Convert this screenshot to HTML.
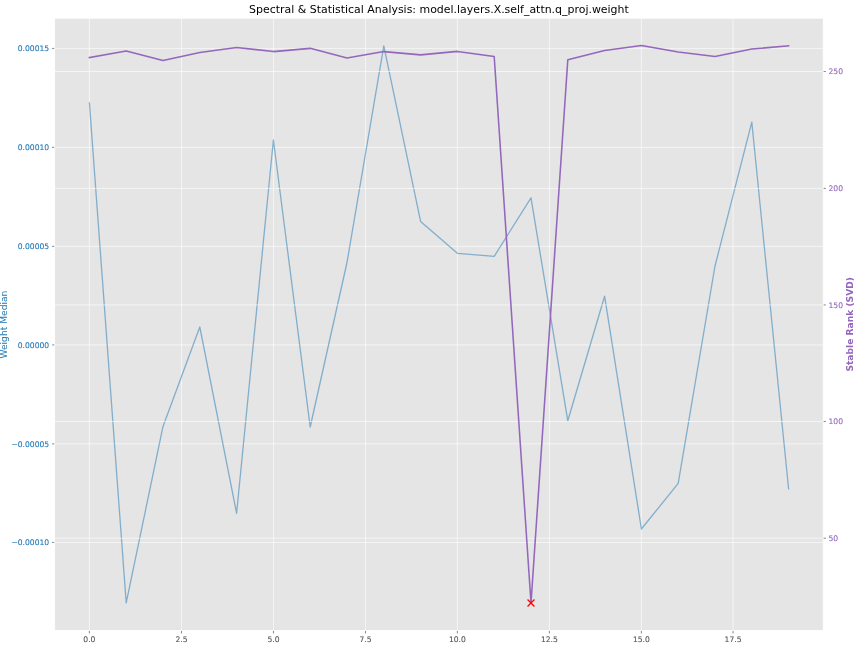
<!DOCTYPE html>
<html><head><meta charset="utf-8"><title>Spectral &amp; Statistical Analysis</title>
<style>
html,body{margin:0;padding:0;background:#fff;}
svg{display:block;will-change:transform}
text{font-family:"DejaVu Sans","Liberation Sans",sans-serif;}
</style></head><body>
<svg width="861" height="650" viewBox="0 0 861 650">
<rect width="861" height="650" fill="#ffffff"/>
<rect x="54.72" y="18.22" width="768.46" height="612.16" fill="#e5e5e5"/>
<clipPath id="c"><rect x="54.72" y="18.22" width="768.46" height="612.16"/></clipPath>
<g stroke="#ffffff" stroke-width="0.62" clip-path="url(#c)"><line x1="89.38" x2="89.38" y1="18.22" y2="630.38"/><line x1="181.46" x2="181.46" y1="18.22" y2="630.38"/><line x1="273.46" x2="273.46" y1="18.22" y2="630.38"/><line x1="365.46" x2="365.46" y1="18.22" y2="630.38"/><line x1="457.38" x2="457.38" y1="18.22" y2="630.38"/><line x1="549.38" x2="549.38" y1="18.22" y2="630.38"/><line x1="641.38" x2="641.38" y1="18.22" y2="630.38"/><line x1="733.05" x2="733.05" y1="18.22" y2="630.38"/><line x1="54.72" x2="823.18" y1="48.41" y2="48.41"/><line x1="54.72" x2="823.18" y1="147.38" y2="147.38"/><line x1="54.72" x2="823.18" y1="246.38" y2="246.38"/><line x1="54.72" x2="823.18" y1="344.95" y2="344.95"/><line x1="54.72" x2="823.18" y1="443.85" y2="443.85"/><line x1="54.72" x2="823.18" y1="542.46" y2="542.46"/></g>
<polyline points="89.40,102.90 126.20,602.90 163.00,426.40 199.80,327.00 236.60,513.30 273.40,140.00 310.20,427.00 347.00,262.50 383.80,45.80 420.60,221.40 457.40,253.30 494.20,256.30 531.00,197.90 567.80,420.80 604.60,296.20 641.40,529.00 678.20,483.40 715.00,266.00 751.80,122.20 788.60,488.80" fill="none" stroke="#1f77b4" stroke-opacity="0.5" stroke-width="1.3" stroke-linejoin="round" stroke-linecap="square" clip-path="url(#c)"/>
<g stroke="#ffffff" stroke-width="0.62" clip-path="url(#c)"><line x1="54.72" x2="823.18" y1="71.50" y2="71.50"/><line x1="54.72" x2="823.18" y1="188.42" y2="188.42"/><line x1="54.72" x2="823.18" y1="304.95" y2="304.95"/><line x1="54.72" x2="823.18" y1="421.50" y2="421.50"/><line x1="54.72" x2="823.18" y1="538.23" y2="538.23"/></g>
<polyline points="89.40,57.60 126.20,50.90 163.00,60.40 199.80,52.50 236.60,47.40 273.40,51.60 310.20,48.35 347.00,58.10 383.80,51.60 420.60,54.90 457.40,51.40 494.20,56.50 531.00,603.00 567.80,59.70 604.60,50.40 641.40,45.60 678.20,52.10 715.00,56.50 751.80,49.00 788.60,45.80" fill="none" stroke="#9467bd" stroke-width="1.56" stroke-linejoin="round" stroke-linecap="square" clip-path="url(#c)"/>
<path d="M527.55,599.55L534.45,606.45M527.55,606.45L534.45,599.55" stroke="#ff0000" stroke-width="1.3" fill="none"/>
<g stroke="#555555" stroke-width="0.7"><line x1="89.38" x2="89.38" y1="630.38" y2="633.44"/><line x1="181.46" x2="181.46" y1="630.38" y2="633.44"/><line x1="273.46" x2="273.46" y1="630.38" y2="633.44"/><line x1="365.46" x2="365.46" y1="630.38" y2="633.44"/><line x1="457.38" x2="457.38" y1="630.38" y2="633.44"/><line x1="549.38" x2="549.38" y1="630.38" y2="633.44"/><line x1="641.38" x2="641.38" y1="630.38" y2="633.44"/><line x1="733.05" x2="733.05" y1="630.38" y2="633.44"/><line x1="52.06" x2="54.72" y1="48.41" y2="48.41"/><line x1="52.06" x2="54.72" y1="147.38" y2="147.38"/><line x1="52.06" x2="54.72" y1="246.38" y2="246.38"/><line x1="52.06" x2="54.72" y1="344.95" y2="344.95"/><line x1="52.06" x2="54.72" y1="443.85" y2="443.85"/><line x1="52.06" x2="54.72" y1="542.46" y2="542.46"/><line x1="823.18" x2="825.8399999999999" y1="71.50" y2="71.50"/><line x1="823.18" x2="825.8399999999999" y1="188.42" y2="188.42"/><line x1="823.18" x2="825.8399999999999" y1="304.95" y2="304.95"/><line x1="823.18" x2="825.8399999999999" y1="421.50" y2="421.50"/><line x1="823.18" x2="825.8399999999999" y1="538.23" y2="538.23"/></g>
<rect x="54.72" y="18.22" width="768.46" height="612.16" fill="none" stroke="#ffffff" stroke-width="0.76"/>
<g font-size="7.6" fill="#555555" stroke="#555555" stroke-width="0.1" text-anchor="middle"><text x="89.38" y="642">0.0</text><text x="181.46" y="642">2.5</text><text x="273.46" y="642">5.0</text><text x="365.46" y="642">7.5</text><text x="457.38" y="642">10.0</text><text x="549.38" y="642">12.5</text><text x="641.38" y="642">15.0</text><text x="733.05" y="642">17.5</text></g>
<g font-size="7.6" fill="#1f77b4" stroke="#1f77b4" stroke-width="0.1" text-anchor="end"><text x="49.15" y="51">0.00015</text><text x="49.15" y="150">0.00010</text><text x="49.15" y="249">0.00005</text><text x="49.15" y="348">0.00000</text><text x="49.15" y="447">−0.00005</text><text x="49.15" y="545">−0.00010</text></g>
<g font-size="7.6" fill="#9467bd" stroke="#9467bd" stroke-width="0.1" text-anchor="start"><text x="828.50" y="74">250</text><text x="828.50" y="191">200</text><text x="828.50" y="308">150</text><text x="828.50" y="424">100</text><text x="828.50" y="541">50</text></g>
<text font-size="9.15" fill="#1f77b4" text-anchor="middle" transform="translate(7.2,324.60) rotate(-90)">Weight Median</text>
<text font-size="9.15" fill="#9467bd" font-weight="bold" text-anchor="middle" transform="translate(852.8,324.30) rotate(-90)">Stable Rank (SVD)</text>
<text font-size="10.94" fill="#000000" text-anchor="middle" x="438.95" y="13.2">Spectral &amp; Statistical Analysis: model.layers.X.self_attn.q_proj.weight</text>
</svg></body></html>
